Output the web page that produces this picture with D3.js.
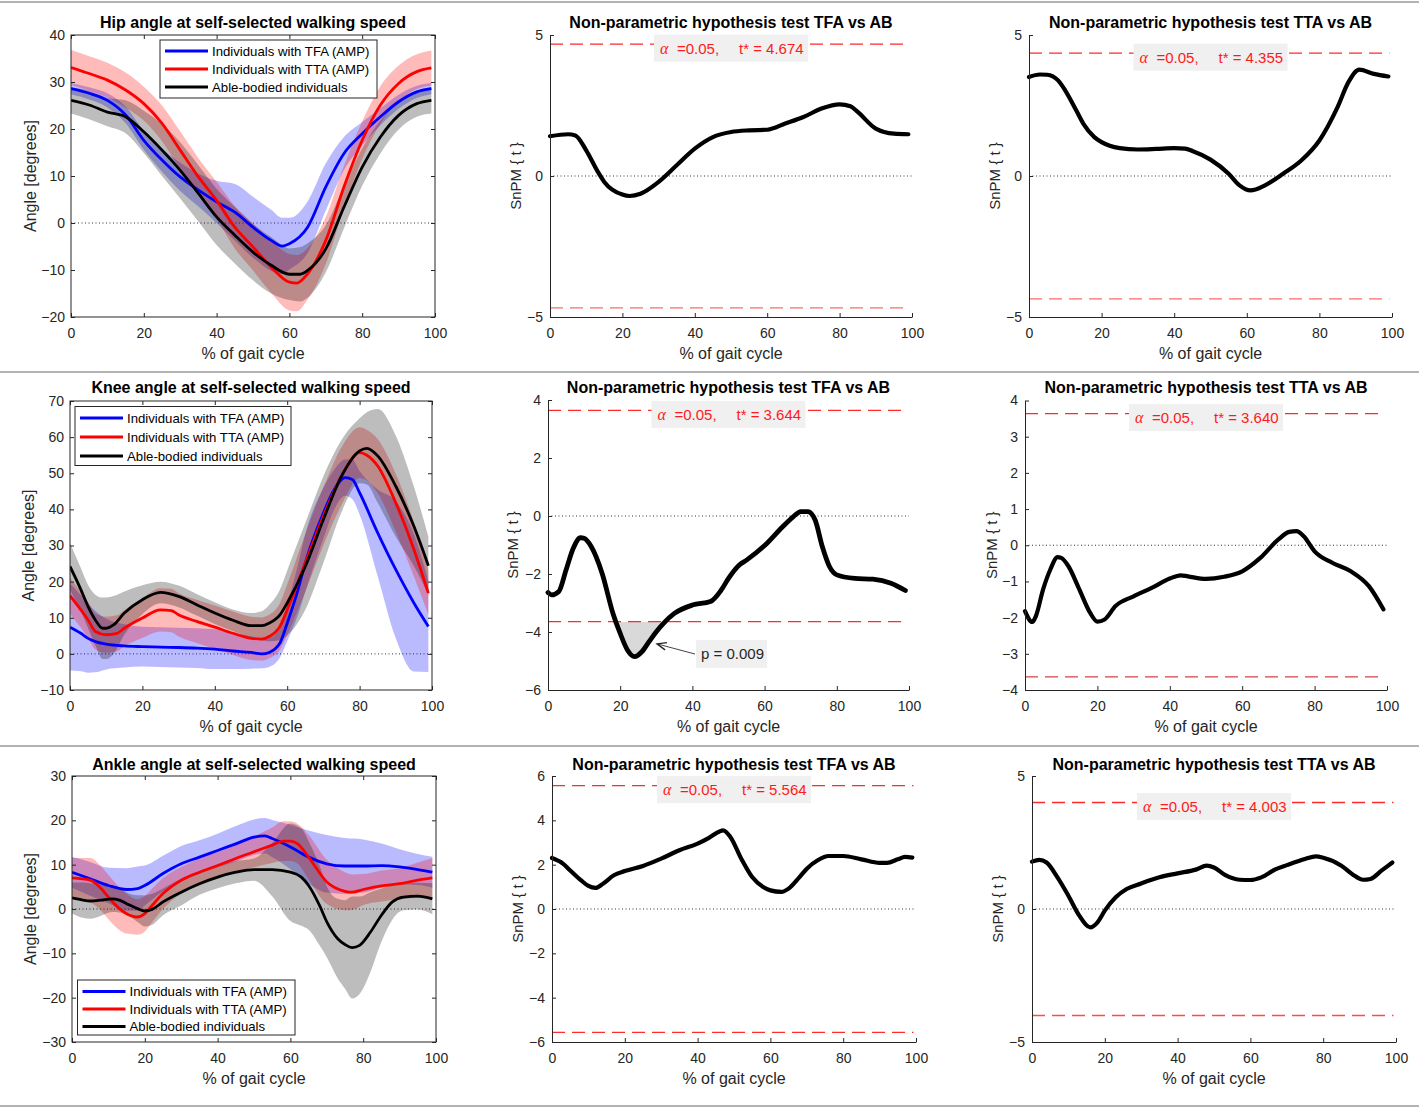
<!DOCTYPE html>
<html><head><meta charset="utf-8">
<script src="https://cdn.jsdelivr.net/npm/d3@7"></script>
<style>
body{margin:0;background:#fff;}
svg{display:block;font-family:"Liberation Sans",Arial,Helvetica,sans-serif;}
</style></head><body>
<svg id="chart" width="1419" height="1107"></svg>
<script>
// ---------------- DATA ----------------
const xTicks = [0,20,40,60,80,100];
const legendLabels = ["Individuals with TFA (AMP)","Individuals with TTA (AMP)","Able-bodied individuals"];
const titles = ["Hip angle at self-selected walking speed","Knee angle at self-selected walking speed","Ankle angle at self-selected walking speed"];
const spmTitleTFA = "Non-parametric hypothesis test TFA vs AB";
const spmTitleTTA = "Non-parametric hypothesis test TTA vs AB";
const xLabel = "% of gait cycle";
const angleLabel = "Angle [degrees]";
const spmLabel = "SnPM { t }";

// Hip
const hipTFA_x    = [0,5,10,15,20,25,30,35,40,45,50,55,58,60,65,70,75,80,85,90,95,99];
const hipTFA_mean = [28.6,27.6,26.1,23,17.6,13.4,9.8,7,4.5,2.3,-0.9,-3.7,-4.9,-4.4,-0.9,7.7,14.8,19,22.6,25.8,27.9,28.6];
const hipTFA_sd   = [1.2,1.3,1.5,1.8,2,2.5,3,3.5,4.5,6,6.5,6.5,6,5.5,5.5,5,3.5,2.5,1.8,1.5,1.3,1.2];
const hipTTA_x    = [0,5,10,15,20,25,30,35,40,45,50,55,60,62,65,70,75,80,85,90,95,99];
const hipTTA_mean = [33.1,31.8,30.4,28.3,25.4,21.2,15.5,9.8,4.8,-0.9,-5.1,-9.4,-12.6,-12.8,-10.8,-3.7,7.7,17.6,25.1,29.7,32.2,33];
const hipTTA_sd   = [3.7,3.7,3.7,3.7,3.6,3.8,4,4,4,4.5,5,5.5,6,6,5.5,5,4.5,4,4,3.8,3.7,3.7];
const hipAB_x     = [0,5,10,15,20,25,30,35,40,45,50,55,60,63,65,70,75,80,85,90,95,99];
const hipAB_mean  = [26.1,25.1,23.6,22.6,19.4,15.5,11.2,6.3,1.3,-2.6,-6.2,-9,-10.9,-10.9,-10.1,-5.5,3.4,11.9,18.3,22.9,25.4,26.1];
const hipAB_sd    = [2.8,3,3,3.5,4.5,5.5,6,6,6,6,6,6,5.5,5.8,5.8,5,4.5,4,3.5,3,2.8,2.8];

// Knee
const kneeTFA_x    = [0,3,5,7,10,15,20,25,30,35,40,45,50,53,55,58,60,63,65,70,73,76,78,80,85,90,95,99];
const kneeTFA_mean = [7.4,5.7,4.3,3.4,2.7,2.2,2,1.85,1.76,1.6,1.3,0.8,0.4,0,0.4,3,8.5,17.8,25.2,39,45.5,48.8,48.3,44.6,33.5,23.3,14.1,7.6];
const kneeTFA_sd   = [12,10.5,9.5,8.5,7,6,5.5,5.5,5.5,5.5,5.5,5,4.5,4,4,4,5,7,8,7,5.5,5,5.5,6,12,19,19,12.6];
const kneeTTA_x    = [0,3,5,7,10,13,15,20,25,28,30,35,40,45,50,53,55,58,60,65,70,75,80,82,85,90,95,99];
const kneeTTA_mean = [16.1,12.2,9.4,6.2,5.3,5.7,7.1,9.9,12.2,12,10.8,9,7.4,5.7,4.3,4.1,4.8,7.6,12.2,25.2,38.1,49.2,55.7,55,52,41.8,28.9,16.8];
const kneeTTA_sd   = [5,5,5,5,5,5,5,5.5,6,6,6,6,6,6,6,6,6,6.5,7,8,8,8,7,7,7.5,8,7.5,6];
const kneeAB_x     = [0,3,5,7,9,10,12,15,20,25,30,35,40,45,50,53,55,58,60,65,70,75,80,82,85,90,95,99];
const kneeAB_mean  = [24.2,17.8,13.1,9.4,7.1,7.1,8,11.3,15,17,15.9,13.6,11.3,9.3,7.8,7.8,8.5,10.8,14.1,24.2,37.2,49.2,56.2,56.9,54.8,46.4,35.3,24.4];
const kneeAB_sd    = [6.5,6,6,7,8.5,8.5,8,6,4,3,3,3,3,3,3.5,4,5,7,9,12,12,10,9,10,13,14,11,8];

// Ankle
const ankleTFA_x    = [0,5,10,15,18,20,25,30,35,40,45,50,53,55,60,65,70,75,80,85,90,95,99];
const ankleTFA_mean = [8.3,6.8,5.3,4.4,4.6,5.3,8,10.2,11.7,13.2,14.7,16.2,16.5,15.9,14,11.7,10.2,9.7,9.7,9.8,9.5,8.9,8.3];
const ankleTFA_sd   = [3.5,3.8,4,4.8,5,4.5,4,4,3.8,3.8,4,4,4,4.2,5,6,6.5,6.3,6,5,4,3.5,3.5];
const ankleTTA_x    = [0,5,8,10,13,15,18,20,22,25,30,35,40,45,50,55,58,60,62,65,70,75,77,80,85,90,95,99];
const ankleTTA_mean = [7,6.5,4.6,2.7,0.08,-1.05,-1.8,-1.05,0.8,3.5,6.5,8.3,9.8,11.4,12.9,14.4,15.3,15.3,14.7,11.7,6.1,4,3.8,4.4,5.2,5.7,6.5,7];
const ankleTTA_sd   = [4.5,5,5,5,4.8,4.5,4,4,3.8,3.5,3,3,3,3,3.5,4,4.5,4.5,4.5,5,5,4.3,4,3.5,3.5,3.5,4,4.5];
const ankleAB_x     = [0,3,5,8,11,13,15,18,20,22,25,30,35,40,45,50,55,60,63,65,68,70,73,75,77,79,82,85,88,91,95,99];
const ankleAB_mean  = [2.5,2,1.8,2,2.3,2,1.2,0.08,-0.45,-0.08,1.6,3.8,5.7,7.2,8.3,8.9,8.9,8.3,7.2,5.3,0.8,-2.9,-6.7,-8,-8.7,-8.2,-5.2,-1.4,1.6,2.7,2.9,2.3];
const ankleAB_sd    = [3.5,4,4,3.5,3,2.8,2.5,3,3.5,3.5,3,3,2.5,2.5,2.5,2.5,6,11,11,10,9,8,9,10,11.5,11,9,6,4,3,3,3.5];

// SnPM curves
const spmHipTFA_x = [0,5,7,10,13,15,20,22,25,30,35,40,45,50,55,60,65,70,75,80,83,85,90,95,99];
const spmHipTFA_t = [1.41,1.48,1.44,0.91,0.2,-0.21,-0.66,-0.71,-0.63,-0.21,0.38,0.97,1.38,1.56,1.62,1.64,1.86,2.09,2.39,2.54,2.47,2.27,1.68,1.5,1.48];
const spmHipTTA_x = [0,3,5,8,10,13,15,18,20,25,30,35,40,43,45,50,55,58,61,65,70,75,80,85,88,91,95,99];
const spmHipTTA_t = [3.51,3.6,3.59,3.39,3.03,2.33,1.85,1.38,1.2,0.99,0.94,0.96,0.99,0.97,0.89,0.58,0.08,-0.33,-0.51,-0.33,0.08,0.55,1.26,2.44,3.33,3.77,3.62,3.53];
const spmKneeTFA_x = [0,1,3,5,7,9,10,12,15,18,20,22,24,26,28,30,32,35,40,45,48,50,53,55,60,65,68,70,72,74,76,78,80,85,90,95,99];
const spmKneeTFA_t = [-2.64,-2.72,-2.6,-1.86,-1.11,-0.75,-0.77,-1.06,-1.98,-3.36,-4.05,-4.62,-4.85,-4.68,-4.33,-3.99,-3.7,-3.36,-3.07,-2.95,-2.55,-2.15,-1.69,-1.52,-1.02,-0.37,-0.02,0.15,0.15,-0.14,-1.06,-1.75,-2.03,-2.15,-2.18,-2.32,-2.57];
const spmKneeTTA_x = [0,2,3,5,7,9,10,12,15,18,20,22,25,30,35,40,43,45,50,55,60,65,70,73,75,77,80,85,90,95,99];
const spmKneeTTA_t = [-1.82,-2.12,-1.96,-1.22,-0.67,-0.33,-0.35,-0.58,-1.22,-1.87,-2.11,-2.05,-1.68,-1.41,-1.18,-0.92,-0.83,-0.86,-0.93,-0.87,-0.72,-0.35,0.16,0.37,0.39,0.25,-0.17,-0.49,-0.72,-1.13,-1.77];
const spmAnkleTFA_x = [0,3,5,8,10,12,14,17,20,25,30,35,40,43,46,47,49,52,55,58,60,63,65,68,70,73,76,80,85,90,92,95,97,99];
const spmAnkleTFA_t = [2.3,2.05,1.74,1.29,1.04,0.95,1.14,1.52,1.71,1.94,2.27,2.65,2.95,3.2,3.5,3.55,3.25,2.27,1.44,0.99,0.84,0.77,0.92,1.44,1.82,2.2,2.39,2.39,2.24,2.08,2.08,2.24,2.35,2.32];
const spmAnkleTTA_x = [0,2,4,7,10,13,16,18,20,23,26,30,35,40,45,48,50,53,57,60,63,67,70,75,78,80,85,88,91,93,96,99];
const spmAnkleTTA_t = [1.78,1.85,1.75,1.19,0.5,-0.25,-0.69,-0.5,-0.06,0.44,0.75,0.96,1.19,1.34,1.48,1.63,1.56,1.28,1.1,1.09,1.19,1.5,1.65,1.88,1.98,1.93,1.63,1.31,1.1,1.13,1.44,1.75];

// Critical thresholds t*
const tStar = [4.674, 4.355, 3.644, 3.640, 5.564, 4.003];
const alphaLabel = "=0.05,";
const clusterP = "p = 0.009";

// ---------------- DRAWING ----------------
const svg = d3.select('#chart');
const FONT = '"Liberation Sans",Arial,Helvetica,sans-serif';
const AXC = '#262626';

// separators
[2, 372, 746, 1106].forEach(yy => {
  svg.append('line').attr('x1',0).attr('x2',1419).attr('y1',yy).attr('y2',yy)
    .attr('stroke','#9a9a9a').attr('stroke-width',1.5);
});

function styleAxis(sel, showText=true){
  sel.selectAll('.tick line').attr('stroke',AXC);
  sel.selectAll('.tick text').attr('fill',AXC).attr('font-size',14).attr('font-family',FONT);
  if(!showText) sel.selectAll('.tick text').remove();
  sel.select('.domain').attr('stroke',AXC);
}

function addLabels(p){
  svg.append('text').attr('x',(p.left+p.right)/2).attr('y',p.titleY).attr('text-anchor','middle')
    .attr('font-weight','bold').attr('font-size',16).attr('fill','#000').text(p.title);
  svg.append('text').attr('x',(p.left+p.right)/2).attr('y',p.bottom+42).attr('text-anchor','middle')
    .attr('font-size',16).attr('fill',AXC).text(xLabel);
  const yc=(p.top+p.bottom)/2;
  svg.append('text').attr('transform',`translate(${p.left-p.ylabOff},${yc}) rotate(-90)`).attr('text-anchor','middle')
    .attr('font-size',p.ylabSize).attr('fill',AXC).text(p.ylabel);
}

let clipCount=0;
function clipRect(x0,y0,w,h){
  const id='clip'+(clipCount++);
  svg.append('clipPath').attr('id',id).append('rect').attr('x',x0).attr('y',y0).attr('width',w).attr('height',h);
  return `url(#${id})`;
}

function kinematicPanel(p){
  const x = d3.scaleLinear().domain([0,100]).range([p.left,p.right]);
  const y = d3.scaleLinear().domain(p.yDomain).range([p.bottom,p.top]);
  const g = svg.append('g');
  const pg = g.append('g').attr('clip-path',clipRect(p.left,p.top,p.right-p.left,p.bottom-p.top));
  pg.append('line').attr('x1',x(0)).attr('x2',x(100)).attr('y1',y(0)).attr('y2',y(0))
    .attr('stroke','#333').attr('stroke-width',1).attr('stroke-dasharray','1,2.5');
  p.series.forEach(s=>{
    const pts = s.x.map((xv,i)=>({x:xv,m:s.mean[i],sd:s.sd[i]}));
    const area = d3.area().x(d=>x(d.x)).y0(d=>y(d.m-d.sd)).y1(d=>y(d.m+d.sd)).curve(d3.curveMonotoneX);
    pg.append('path').datum(pts).attr('d',area).attr('fill',s.color).attr('fill-opacity',s.alpha).attr('stroke','none');
  });
  p.series.forEach(s=>{
    const pts = s.x.map((xv,i)=>({x:xv,m:s.mean[i]}));
    const line = d3.line().x(d=>x(d.x)).y(d=>y(d.m)).curve(d3.curveMonotoneX);
    pg.append('path').datum(pts).attr('d',line).attr('fill','none').attr('stroke',s.color).attr('stroke-width',2.8);
  });
  // axes (ticks inward on all four sides)
  g.append('g').attr('transform',`translate(0,${p.bottom})`)
    .call(d3.axisBottom(x).tickValues(xTicks).tickSizeInner(-4).tickSizeOuter(0).tickPadding(11)).call(s=>styleAxis(s));
  g.append('g').attr('transform',`translate(0,${p.top})`)
    .call(d3.axisTop(x).tickValues(xTicks).tickSizeInner(-4).tickSizeOuter(0)).call(s=>styleAxis(s,false));
  g.append('g').attr('transform',`translate(${p.left},0)`)
    .call(d3.axisLeft(y).tickValues(p.yTicks).tickSizeInner(-4).tickSizeOuter(0).tickPadding(6)).call(s=>styleAxis(s));
  g.append('g').attr('transform',`translate(${p.right},0)`)
    .call(d3.axisRight(y).tickValues(p.yTicks).tickSizeInner(-4).tickSizeOuter(0)).call(s=>styleAxis(s,false));
  g.selectAll('.domain').remove();
  g.append('rect').attr('x',p.left).attr('y',p.top).attr('width',p.right-p.left).attr('height',p.bottom-p.top)
    .attr('fill','none').attr('stroke',AXC).attr('stroke-width',1);
  // legend
  const L = p.legend;
  const lg = g.append('g').attr('transform',`translate(${L.x},${L.y})`);
  lg.append('rect').attr('x',0).attr('y',0).attr('width',L.w).attr('height',L.h).attr('fill','#fff').attr('stroke',AXC).attr('stroke-width',1);
  p.series.forEach((s,i)=>{
    const yy = L.row0 + i*L.dy;
    lg.append('line').attr('x1',5).attr('x2',48).attr('y1',yy).attr('y2',yy).attr('stroke',s.color).attr('stroke-width',3);
    lg.append('text').attr('x',52).attr('y',yy).attr('dy','0.35em').attr('font-size',13.2).attr('fill','#000').text(legendLabels[i]);
  });
  addLabels(p);
}

function spmPanel(p){
  const x = d3.scaleLinear().domain([0,100]).range([p.left,p.right]);
  const y = d3.scaleLinear().domain(p.yDomain).range([p.bottom,p.top]);
  const g = svg.append('g');
  const pts = p.xv.map((xv,i)=>({x:xv,t:p.tv[i]}));
  if(p.cluster){
    const cp = clipRect(p.left, y(-p.thr), p.right-p.left, p.bottom-y(-p.thr));
    const area = d3.area().x(d=>x(d.x)).y0(y(-p.thr)).y1(d=>y(d.t)).curve(d3.curveMonotoneX);
    g.append('path').datum(pts).attr('d',area).attr('clip-path',cp).attr('fill','#d9d9d9');
  }
  // thresholds
  [p.thr, -p.thr].forEach((tv,i)=>{
    g.append('line').attr('x1',x(0)).attr('x2',x(99.3)).attr('y1',y(tv)).attr('y2',y(tv))
      .attr('stroke', i===0 ? '#ff2a2a' : p.lowColor).attr('stroke-width',1.3).attr('stroke-dasharray','13,7');
  });
  g.append('line').attr('x1',x(0)).attr('x2',x(100)).attr('y1',y(0)).attr('y2',y(0))
    .attr('stroke','#333').attr('stroke-width',1).attr('stroke-dasharray','1,2.5');
  const line = d3.line().x(d=>x(d.x)).y(d=>y(d.t)).curve(d3.curveMonotoneX);
  g.append('path').datum(pts).attr('d',line).attr('fill','none').attr('stroke','#000')
    .attr('stroke-width',p.thick).attr('stroke-linejoin','round').attr('stroke-linecap','round');
  // axes
  g.append('g').attr('transform',`translate(0,${p.bottom})`)
    .call(d3.axisBottom(x).tickValues(xTicks).tickSizeInner(-4).tickSizeOuter(0).tickPadding(11)).call(s=>styleAxis(s));
  g.append('g').attr('transform',`translate(${p.left},0)`)
    .call(d3.axisLeft(y).tickValues(p.yTicks).tickSizeInner(-4).tickSizeOuter(0).tickPadding(7)).call(s=>styleAxis(s));
  // threshold label box
  const bw=154, bh=27, cx=(p.left+p.right)/2, cy=y(p.thr)+4;
  const bx=cx-bw/2, by=cy-bh/2;
  g.append('rect').attr('x',bx).attr('y',by).attr('width',bw).attr('height',bh).attr('fill','#f0f0f0');
  const tx = g.append('text').attr('y',cy).attr('dy','0.36em').attr('font-size',15).attr('fill','#ff1a1a');
  tx.append('tspan').attr('x',bx+6).attr('font-family','"Liberation Serif","Times New Roman",serif').attr('font-style','italic').attr('font-size',16).text('\u03b1');
  tx.append('tspan').attr('x',bx+23).text(alphaLabel);
  tx.append('tspan').attr('x',bx+85).text('t* = '+p.thr.toFixed(3));
  // cluster annotation
  if(p.cluster){
    const a = p.cluster;
    const pbx = x(a.boxX), pby = y(a.boxY);
    g.append('line').attr('x1',pbx-1).attr('y1',pby).attr('x2',x(a.tipX)).attr('y2',y(a.tipY))
      .attr('stroke','#444').attr('stroke-width',1);
    const ang = Math.atan2(y(a.tipY)-pby, x(a.tipX)-(pbx-1));
    const tipx=x(a.tipX), tipy=y(a.tipY), L=10, w=0.38;
    g.append('path').attr('d',`M${tipx-L*Math.cos(ang-w)},${tipy-L*Math.sin(ang-w)} L${tipx},${tipy} L${tipx-L*Math.cos(ang+w)},${tipy-L*Math.sin(ang+w)}`)
      .attr('fill','none').attr('stroke','#222').attr('stroke-width',1.3);
    g.append('rect').attr('x',pbx).attr('y',pby-14).attr('width',71).attr('height',28).attr('fill','#f0f0f0');
    g.append('text').attr('x',pbx+5).attr('y',pby).attr('dy','0.36em').attr('font-size',15).attr('fill',AXC).text(clusterP);
  }
  addLabels(p);
}

const rows = [
  {top:35, bottom:317, titleY:28},
  {top:401, bottom:690, titleY:392.5},
  {top:776, bottom:1042, titleY:769.5}
];

// Row 1 : hip
kinematicPanel({left:71,right:435,top:rows[0].top,bottom:rows[0].bottom,titleY:rows[0].titleY,
  yDomain:[-20,40], yTicks:d3.range(-20,41,10), title:titles[0], ylabel:angleLabel, ylabOff:35, ylabSize:16,
  legend:{x:160,y:40,w:217,h:58,row0:11,dy:18},
  series:[
    {x:hipTFA_x,mean:hipTFA_mean,sd:hipTFA_sd,color:'#0000ff',alpha:0.27},
    {x:hipTTA_x,mean:hipTTA_mean,sd:hipTTA_sd,color:'#ff0000',alpha:0.27},
    {x:hipAB_x,mean:hipAB_mean,sd:hipAB_sd,color:'#000000',alpha:0.26}
  ]});
spmPanel({left:550,right:912,top:rows[0].top,bottom:rows[0].bottom,titleY:rows[0].titleY,
  yDomain:[-5,5], yTicks:[-5,0,5], title:spmTitleTFA, ylabel:spmLabel, ylabOff:29, ylabSize:15,
  xv:spmHipTFA_x, tv:spmHipTFA_t, thr:tStar[0], thick:4.2, lowColor:'#ff6a6a'});
spmPanel({left:1029,right:1392,top:rows[0].top,bottom:rows[0].bottom,titleY:rows[0].titleY,
  yDomain:[-5,5], yTicks:[-5,0,5], title:spmTitleTTA, ylabel:spmLabel, ylabOff:29, ylabSize:15,
  xv:spmHipTTA_x, tv:spmHipTTA_t, thr:tStar[1], thick:4.2, lowColor:'#ff6a6a'});

// Row 2 : knee
kinematicPanel({left:70,right:432,top:rows[1].top,bottom:rows[1].bottom,titleY:rows[1].titleY,
  yDomain:[-10,70], yTicks:d3.range(-10,71,10), title:titles[1], ylabel:angleLabel, ylabOff:36, ylabSize:16,
  legend:{x:75,y:406.5,w:216,h:59,row0:11.5,dy:19},
  series:[
    {x:kneeTFA_x,mean:kneeTFA_mean,sd:kneeTFA_sd,color:'#0000ff',alpha:0.27},
    {x:kneeTTA_x,mean:kneeTTA_mean,sd:kneeTTA_sd,color:'#ff0000',alpha:0.27},
    {x:kneeAB_x,mean:kneeAB_mean,sd:kneeAB_sd,color:'#000000',alpha:0.26}
  ]});
spmPanel({left:548,right:909,top:400,bottom:rows[1].bottom,titleY:rows[1].titleY,
  yDomain:[-6,4], yTicks:[-6,-4,-2,0,2,4], title:spmTitleTFA, ylabel:spmLabel, ylabOff:30, ylabSize:15,
  xv:spmKneeTFA_x, tv:spmKneeTFA_t, thr:tStar[2], thick:4.8, lowColor:'#ff2a2a',
  cluster:{boxX:41, boxY:-4.76, tipX:30.2, tipY:-4.41}});
spmPanel({left:1025,right:1387,top:400.5,bottom:rows[1].bottom,titleY:rows[1].titleY,
  yDomain:[-4,4], yTicks:[-4,-3,-2,-1,0,1,2,3,4], title:spmTitleTTA, ylabel:spmLabel, ylabOff:28, ylabSize:15,
  xv:spmKneeTTA_x, tv:spmKneeTTA_t, thr:tStar[3], thick:4.2, lowColor:'#d0454a'});

// Row 3 : ankle
kinematicPanel({left:72,right:436,top:rows[2].top,bottom:rows[2].bottom,titleY:rows[2].titleY,
  yDomain:[-30,30], yTicks:d3.range(-30,31,10), title:titles[2], ylabel:angleLabel, ylabOff:36, ylabSize:16,
  legend:{x:77.5,y:980,w:217.5,h:55,row0:11.5,dy:17.5},
  series:[
    {x:ankleTFA_x,mean:ankleTFA_mean,sd:ankleTFA_sd,color:'#0000ff',alpha:0.27},
    {x:ankleTTA_x,mean:ankleTTA_mean,sd:ankleTTA_sd,color:'#ff0000',alpha:0.27},
    {x:ankleAB_x,mean:ankleAB_mean,sd:ankleAB_sd,color:'#000000',alpha:0.26}
  ]});
spmPanel({left:552,right:916,top:rows[2].top,bottom:rows[2].bottom,titleY:rows[2].titleY,
  yDomain:[-6,6], yTicks:[-6,-4,-2,0,2,4,6], title:spmTitleTFA, ylabel:spmLabel, ylabOff:29, ylabSize:15,
  xv:spmAnkleTFA_x, tv:spmAnkleTFA_t, thr:tStar[4], thick:4.2, lowColor:'#ff2a2a'});
spmPanel({left:1032,right:1396,top:rows[2].top,bottom:rows[2].bottom,titleY:rows[2].titleY,
  yDomain:[-5,5], yTicks:[-5,0,5], title:spmTitleTTA, ylabel:spmLabel, ylabOff:29, ylabSize:15,
  xv:spmAnkleTTA_x, tv:spmAnkleTTA_t, thr:tStar[5], thick:4.2, lowColor:'#ff4a4a'});
</script>
</body></html>
